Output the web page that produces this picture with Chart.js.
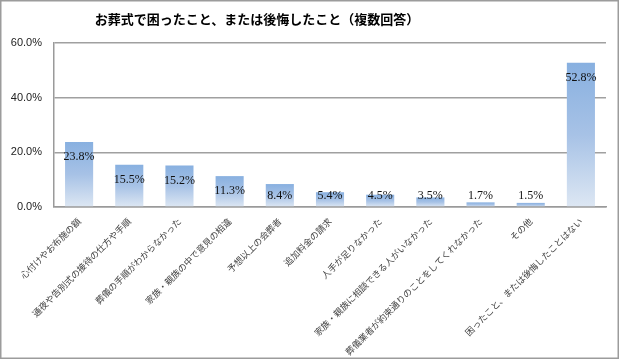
<!DOCTYPE html>
<html><head><meta charset="utf-8">
<script src="https://cdn.jsdelivr.net/npm/chart.js@4"></script>
<style>html,body{margin:0;padding:0;background:#fff;}#wrap{width:620px;height:360px;position:relative;}</style>
</head><body><div id="wrap"><canvas id="c" width="620" height="360"></canvas></div>
<script>
const chartTitle = 'お葬式で困ったこと、または後悔したこと（複数回答）';
const categories = [
  '心付けやお布施の額',
  '通夜や告別式の接待の仕方や手順',
  '葬儀の手順がわからなかった',
  '家族・親族の中で意見の相違',
  '予想以上の会葬者',
  '追加料金の請求',
  '人手が足りなかった',
  '家族・親族に相談できる人がいなかった',
  '葬儀業者が約束通りのことをしてくれなかった',
  'その他',
  '困ったこと、または後悔したことはない'
];
const values = [23.8, 15.5, 15.2, 11.3, 8.4, 5.4, 4.5, 3.5, 1.7, 1.5, 52.8];
const yTicks = [0, 20, 40, 60];

function barGradient(ctx) {
  const chart = ctx.chart;
  const area = chart.chartArea;
  if (!area || ctx.parsed === undefined) return '#a7c0e4';
  const ys = chart.scales.y;
  const top = ys.getPixelForValue(ctx.parsed.y);
  const bottom = ys.getPixelForValue(0);
  const g = chart.ctx.createLinearGradient(0, top, 0, bottom);
  g.addColorStop(0, '#88b0e0');
  g.addColorStop(0.5, '#a7c2e6');
  g.addColorStop(1, '#dde7f3');
  return g;
}

const framePlugin = {
  id: 'frame',
  beforeDraw(chart) {
    const c = chart.ctx;
    c.save();
    c.fillStyle = '#fff';
    c.fillRect(0, 0, 620, 360);
    c.restore();
  },
  afterDraw(chart) {
    const c = chart.ctx;
    c.save();
    c.strokeStyle = '#9c9c9c';
    c.lineWidth = 1.5;
    c.strokeRect(0.75, 0.75, 617.5, 357.5);
    c.fillStyle = '#000';
    c.font = 'bold 13px "Noto Sans CJK JP"';
    c.textAlign = 'center';
    c.textBaseline = 'middle';
    c.fillText(chartTitle, 257, 19);
    c.restore();
  },
  afterDatasetsDraw(chart) {
    const c = chart.ctx;
    const meta = chart.getDatasetMeta(0);
    const base = chart.scales.y.getPixelForValue(0);
    c.save();
    c.fillStyle = '#111';
    c.font = '12px "Liberation Serif"';
    c.textAlign = 'center';
    c.textBaseline = 'middle';
    meta.data.forEach((bar, i) => {
      const y = Math.min(bar.y + 15, base - 11);
      c.fillText(values[i].toFixed(1) + '%', bar.x, y);
    });
    c.restore();
  }
};

new Chart(document.getElementById('c'), {
  type: 'bar',
  data: {
    labels: categories,
    datasets: [{
      data: values,
      backgroundColor: barGradient,
      borderWidth: 0,
      barPercentage: 0.56,
      categoryPercentage: 1.0
    }]
  },
  options: {
    responsive: false,
    animation: false,
    layout: { padding: { left: 8, right: 14, top: 43, bottom: 0 } },
    plugins: { legend: { display: false }, tooltip: { enabled: false }, title: { display: false } },
    scales: {
      x: {
        grid: { display: false, drawTicks: false },
        border: { color: '#9a9a9a', width: 1.5 },
        ticks: {
          autoSkip: false, minRotation: 45, maxRotation: 45, padding: 9,
          color: '#444', font: { family: '"Noto Sans CJK JP"', size: 9 }
        },
        afterFit(scale) { scale.height = 153; }
      },
      y: {
        min: 0, max: 60,
        afterBuildTicks(scale) { scale.ticks = yTicks.map(v => ({ value: v })); },
        grid: { color: '#a0a0a0', lineWidth: 1.5, drawTicks: false },
        border: { color: '#9a9a9a', width: 1.5 },
        ticks: {
          padding: 12, color: '#222',
          font: { family: '"Liberation Sans"', size: 11 },
          callback: v => v.toFixed(1) + '%'
        },
        afterFit(scale) { scale.width = 46; }
      }
    }
  },
  plugins: [framePlugin]
});
</script>
</body></html>
